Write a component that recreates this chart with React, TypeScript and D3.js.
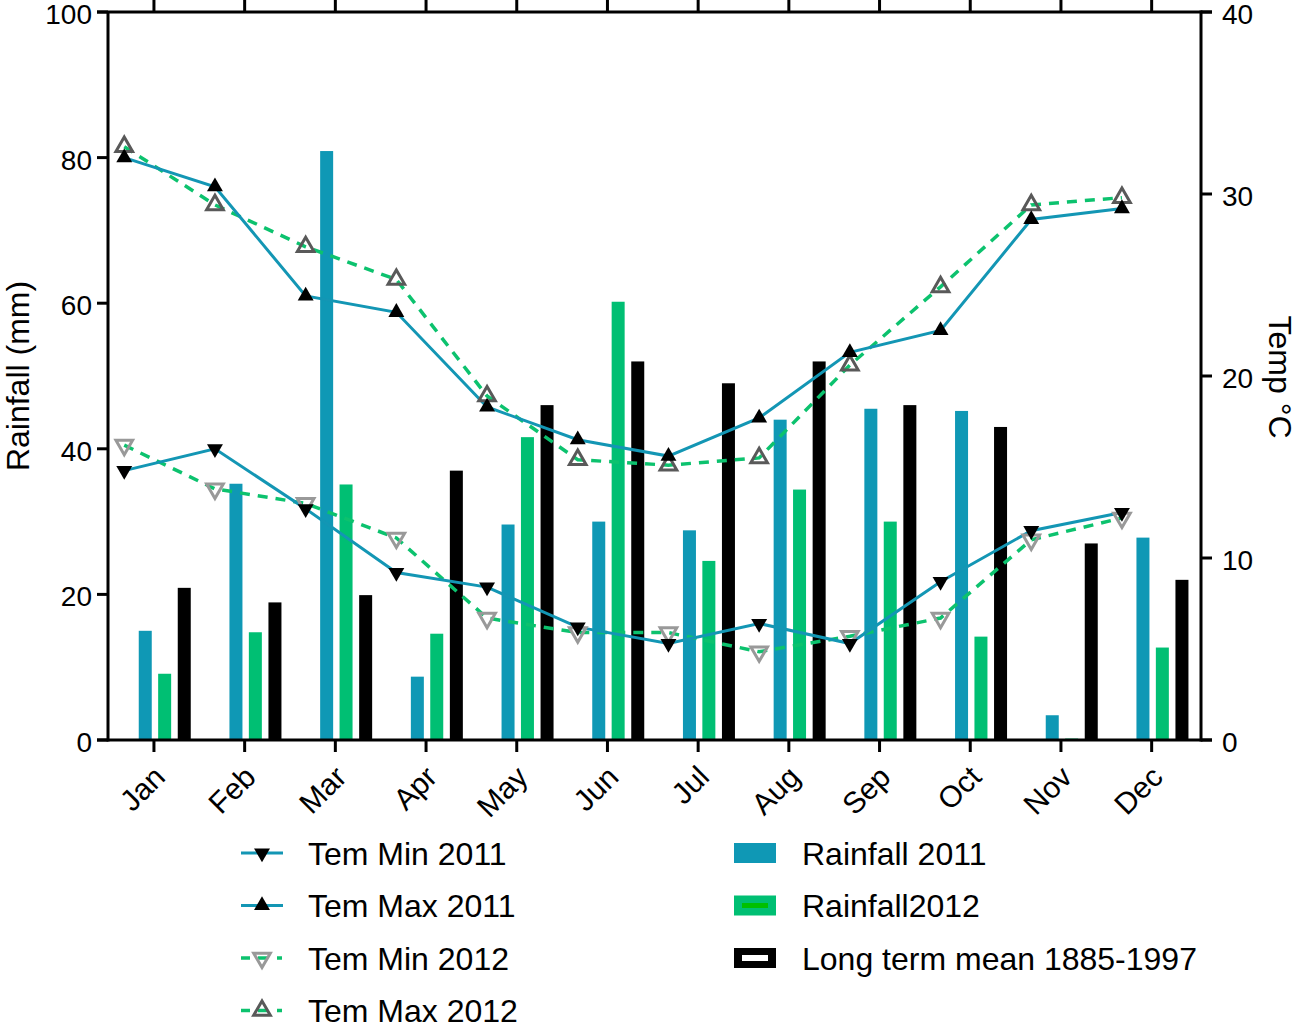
import React from "react";
import * as d3 from "d3";

const months = ["Jan", "Feb", "Mar", "Apr", "May", "Jun", "Jul", "Aug", "Sep", "Oct", "Nov", "Dec"];

// rainfall, mm (left axis)
const rain2011 = [15, 35.2, 80.9, 8.7, 29.6, 30.0, 28.8, 44.0, 45.5, 45.2, 3.4, 27.8];
const rain2012 = [9.1, 14.8, 35.1, 14.6, 41.6, 60.2, 24.6, 34.4, 30.0, 14.2, 0.2, 12.7];
const longTermMean = [20.9, 18.9, 19.9, 37, 46, 52, 49, 52, 46, 43, 27, 22];

// temperature, °C (right axis)
const temMin2011 = [14.8, 16.0, 12.7, 9.2, 8.4, 6.2, 5.3, 6.4, 5.3, 8.7, 11.5, 12.5];
const temMax2011 = [32.0, 30.4, 24.4, 23.5, 18.3, 16.5, 15.6, 17.7, 21.3, 22.5, 28.6, 29.2];
const temMin2012 = [16.2, 13.8, 13.0, 11.1, 6.7, 5.9, 5.9, 4.85, 5.7, 6.7, 11.0, 12.2];
const temMax2012 = [32.6, 29.4, 27.1, 25.3, 18.9, 15.4, 15.1, 15.5, 20.6, 24.9, 29.4, 29.8];

const rainTicks = [0, 20, 40, 60, 80, 100];
const tempTicks = [0, 10, 20, 30, 40];

const BLUE = "#0f98b5";
const GREEN = "#00bf73";
const LINE_BLUE = "#1396b4";
const DASH_GREEN = "#0cc26e";
const FONT = "'Liberation Sans', Arial, sans-serif";

const left = 108;
const right = 1201;
const top = 12;
const bottom = 740;

const x = d3.scaleBand<string>().domain(months).range([108.6, 1197]).padding(0);
const yRain = d3.scaleLinear().domain([0, 100]).range([bottom, top]);
const yTemp = d3.scaleLinear().domain([0, 40]).range([bottom, top]);

const cx = (m: string) => (x(m) ?? 0) + x.bandwidth() / 2;
const barW = 13;
const barOffsets = [-8.7, 10.7, 30.3];
const pointOffset = -29.7;

const triUp = d3.symbol(d3.symbolTriangle, 110)() || "";
const triOpen = d3.symbol(d3.symbolTriangle, 120)() || "";

const lineGen = d3
  .line<number>()
  .x((_, i) => cx(months[i]) + pointOffset)
  .y((d) => yTemp(d));

type Series = {
  name: string;
  values: number[];
  color: string;
  dash?: string;
  down: boolean;
  fill: string;
  stroke: string;
};

const tempSeries: Series[] = [
  { name: "Tem Min 2011", values: temMin2011, color: LINE_BLUE, down: true, fill: "#000", stroke: "none" },
  { name: "Tem Max 2011", values: temMax2011, color: LINE_BLUE, down: false, fill: "#000", stroke: "none" },
  { name: "Tem Min 2012", values: temMin2012, color: DASH_GREEN, dash: "10,8", down: true, fill: "none", stroke: "#999" },
  { name: "Tem Max 2012", values: temMax2012, color: DASH_GREEN, dash: "10,8", down: false, fill: "none", stroke: "#595959" },
];

const barSeries = [
  { name: "Rainfall 2011", values: rain2011, color: BLUE },
  { name: "Rainfall2012", values: rain2012, color: GREEN },
  { name: "Long term mean 1885-1997", values: longTermMean, color: "#000" },
];

function Marker({ s, tx, ty }: { s: Series; tx: number; ty: number }) {
  const open = s.fill === "none";
  return (
    <path
      d={open ? triOpen : triUp}
      transform={`translate(${tx},${ty})${s.down ? " rotate(180)" : ""}`}
      fill={s.fill}
      stroke={s.stroke}
      strokeWidth={open ? 3 : 0}
      strokeLinejoin="miter"
    />
  );
}

export default function App() {
  const drawOrder = [tempSeries[2], tempSeries[3], tempSeries[0], tempSeries[1]];
  return (
    <svg width={1299} height={1027} style={{ display: "block", position: "absolute", left: 0, top: 0 }} fontFamily={FONT}>
      <rect width={1299} height={1027} fill="#fff" />

      {/* bars */}
      {barSeries.map((b, bi) =>
        b.values.map((v, i) => (
          <rect
            key={`${bi}-${i}`}
            x={cx(months[i]) + barOffsets[bi] - barW / 2}
            y={yRain(v)}
            width={barW}
            height={bottom - yRain(v)}
            fill={b.color}
          />
        ))
      )}

      {/* temperature lines */}
      {drawOrder.map((s) => (
        <path
          key={s.name}
          d={lineGen(s.values) || ""}
          fill="none"
          stroke={s.color}
          strokeWidth={s.dash ? 3.5 : 3}
          strokeDasharray={s.dash}
        />
      ))}
      {drawOrder.map((s) =>
        s.values.map((v, i) => (
          <Marker key={`${s.name}-${i}`} s={s} tx={cx(months[i]) + pointOffset} ty={yTemp(v)} />
        ))
      )}

      {/* frame / axes */}
      <g stroke="#000" strokeWidth={3} fill="none">
        <line x1={left} y1={top} x2={left} y2={bottom + 1.5} />
        <line x1={right} y1={top - 1.5} x2={right} y2={bottom + 1.5} />
        <line x1={left - 11} y1={bottom} x2={right + 11} y2={bottom} />
        <line x1={left - 11} y1={top} x2={right + 11} y2={top} />
        {months.map((m) => (
          <g key={m}>
            <line x1={cx(m)} y1={bottom} x2={cx(m)} y2={bottom + 12} />
            <line x1={cx(m)} y1={top} x2={cx(m)} y2={top - 12} />
          </g>
        ))}
        {rainTicks.map((t) => (
          <line key={t} x1={left - 11} y1={yRain(t)} x2={left} y2={yRain(t)} />
        ))}
        {tempTicks.map((t) => (
          <line key={t} x1={right} y1={yTemp(t)} x2={right + 11} y2={yTemp(t)} />
        ))}
      </g>

      {/* tick labels */}
      <g fontSize={28} fill="#000">
        {rainTicks.map((t) => (
          <text key={t} x={92} y={yRain(t) + 2} dy="0.36em" textAnchor="end">
            {t}
          </text>
        ))}
        {tempTicks.map((t) => (
          <text key={t} x={1222} y={yTemp(t) + 2} dy="0.36em" textAnchor="start">
            {t}
          </text>
        ))}
        {months.map((m) => (
          <text
            key={m}
            transform={`translate(${cx(m) - 2},${bottom + 24}) rotate(-45)`}
            textAnchor="end"
            dy="0.7em"
            fontSize={30}
          >
            {m}
          </text>
        ))}
      </g>

      {/* axis titles */}
      <text transform="translate(29,376) rotate(-90)" textAnchor="middle" fontSize={32}>
        Rainfall (mm)
      </text>
      <text transform="translate(1269,377) rotate(90)" textAnchor="middle" fontSize={32}>
        Temp °C
      </text>

      {/* legend: lines */}
      {tempSeries.map((s, i) => {
        const ly = 853 + i * 52.5;
        return (
          <g key={s.name}>
            {s.dash ? (
              <g stroke={s.color} strokeWidth={3.5}>
                <line x1={241} y1={ly} x2={250} y2={ly} />
                <line x1={258} y1={ly} x2={268} y2={ly} />
                <line x1={277} y1={ly} x2={282} y2={ly} />
              </g>
            ) : (
              <line x1={241} y1={ly} x2={283} y2={ly} stroke={s.color} strokeWidth={3} />
            )}
            <Marker s={s} tx={262} ty={ly} />
            <text x={308} y={ly} dy="0.36em" fontSize={32}>
              {s.name}
            </text>
          </g>
        );
      })}

      {/* legend: bars */}
      {barSeries.map((b, i) => {
        const ly = 853 + i * 52.5;
        return (
          <g key={b.name}>
            <rect x={734} y={ly - 10} width={42} height={20} fill={b.color} />
            {i === 1 && <rect x={742} y={ly - 2.5} width={26} height={5} fill="#00c000" />}
            {i === 2 && <rect x={742} y={ly - 3} width={26} height={6} fill="#fff" />}
            <text x={802} y={ly} dy="0.36em" fontSize={32}>
              {b.name}
            </text>
          </g>
        );
      })}
    </svg>
  );
}
